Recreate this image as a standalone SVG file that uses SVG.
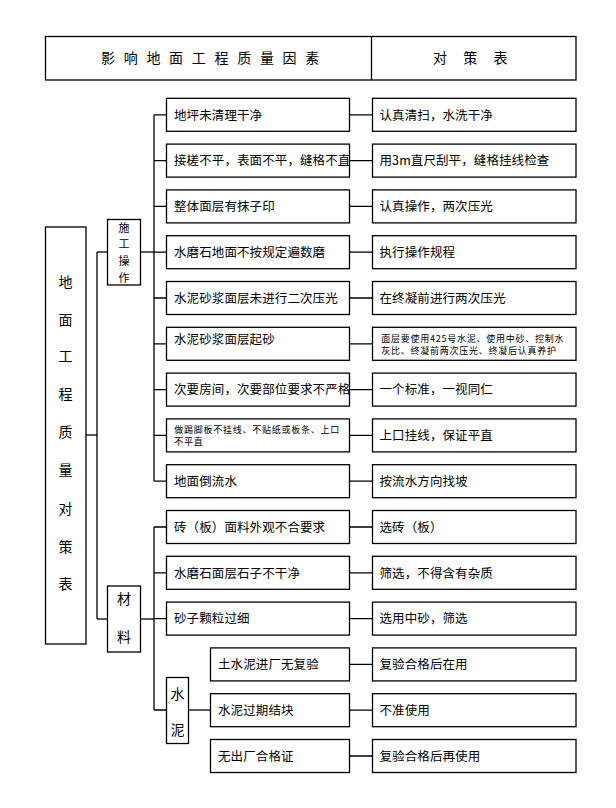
<svg xmlns="http://www.w3.org/2000/svg" width="616" height="808" viewBox="0 0 616 808">
<style>
rect{fill:#fff;stroke:#000;stroke-width:1.3}
.c line,.c path{stroke:#000;stroke-width:1.3;fill:none}
text{font-family:"Noto Sans CJK SC","Noto Sans",sans-serif;fill:#000}
.h{font-size:14px}
.v{font-size:14px;text-anchor:middle}
.vs{font-size:11px;text-anchor:middle}
.m{font-size:12.5px;letter-spacing:0.1px}
.s{font-size:9px;letter-spacing:0.75px}
</style>
<rect width="616" height="808" style="stroke:none"/>
<g id="header">
<rect x="45.5" y="36.5" width="530.5" height="43.5"/>
<line x1="371.5" y1="36.5" x2="371.5" y2="80" stroke="#000" stroke-width="1.3"/>
<text class="h" x="101" y="63" letter-spacing="8.7">影响地面工程质量因素</text>
<text class="h" x="433" y="63" letter-spacing="16.2">对策表</text>
</g>
<g class="c" id="connectors">
<line x1="86" y1="435" x2="97" y2="435"/>
<line x1="97" y1="252" x2="97" y2="619"/>
<line x1="97" y1="252" x2="107.5" y2="252"/>
<line x1="97" y1="619" x2="107.5" y2="619"/>
<line x1="140.5" y1="252" x2="154" y2="252"/>
<line x1="154" y1="114.8" x2="154" y2="481.2"/>
<line x1="140.5" y1="619" x2="154" y2="619"/>
<line x1="154" y1="527" x2="154" y2="710"/>
<path d="M154 114.8H166.5M154 160.6H166.5M154 206.4H166.5M154 252.2H166.5M154 298H166.5M154 343.8H166.5M154 389.6H166.5M154 435.4H166.5M154 481.2H166.5M154 527H166.5M154 572.8H166.5M154 618.6H166.5M154 710H166.5"/>
<line x1="188.5" y1="710" x2="210.5" y2="710"/>
<path d="M349.5 114.8H372.5M349.5 160.6H372.5M349.5 206.4H372.5M349.5 252.2H372.5M349.5 298H372.5M349.5 343.8H372.5M349.5 389.6H372.5M349.5 435.4H372.5M349.5 481.2H372.5M349.5 527H372.5M349.5 572.8H372.5M349.5 618.6H372.5M349.5 664.4H372.5M349.5 710.2H372.5M349.5 756H372.5"/>
</g>
<g id="root">
<rect x="45.5" y="227" width="40.5" height="417"/>
<text class="v" x="65.5" y="287">地</text>
<text class="v" x="65.5" y="324.5">面</text>
<text class="v" x="65.5" y="361">工</text>
<text class="v" x="65.5" y="398.5">程</text>
<text class="v" x="65.5" y="437">质</text>
<text class="v" x="65.5" y="475">量</text>
<text class="v" x="65.5" y="513.5">对</text>
<text class="v" x="65.5" y="552">策</text>
<text class="v" x="65.5" y="588.5">表</text>
</g>
<g id="cat-construction">
<rect x="107.5" y="219.5" width="33" height="65.5"/>
<text class="vs" x="124" y="231.5">施</text>
<text class="vs" x="124" y="248.3">工</text>
<text class="vs" x="124" y="265.1">操</text>
<text class="vs" x="124" y="281.9">作</text>
</g>
<g id="cat-material">
<rect x="107.5" y="586" width="33" height="66"/>
<text class="v" x="124" y="603.5">材</text>
<text class="v" x="124" y="642">料</text>
</g>
<g id="cat-cement">
<rect x="166.5" y="677.5" width="22" height="66"/>
<text class="v" x="177.5" y="698.5">水</text>
<text class="v" x="177.5" y="735">泥</text>
</g>
<g id="f1"><rect x="166.5" y="98.3" width="183" height="33"/><text class="m" x="174" y="119.5">地坪未清理干净</text></g>
<g id="f2"><rect x="166.5" y="144.1" width="183" height="33"/><text class="m" x="174" y="165.3">接槎不平，表面不平，缝格不直</text></g>
<g id="f3"><rect x="166.5" y="189.9" width="183" height="33"/><text class="m" x="174" y="211.1">整体面层有抹子印</text></g>
<g id="f4"><rect x="166.5" y="235.7" width="183" height="33"/><text class="m" x="174" y="256.9">水磨石地面不按规定遍数磨</text></g>
<g id="f5"><rect x="166.5" y="281.5" width="183" height="33"/><text class="m" x="174" y="302.7">水泥砂浆面层未进行二次压光</text></g>
<g id="f6"><rect x="166.5" y="327.3" width="183" height="33"/><text class="m" x="174" y="344">水泥砂浆面层起砂</text></g>
<g id="f7"><rect x="166.5" y="373.1" width="183" height="33"/><text class="m" x="174" y="394.3">次要房间，次要部位要求不严格</text></g>
<g id="f8"><rect x="166.5" y="418.9" width="183" height="33"/><text class="s" x="174.3" y="433.2">做踢脚板不挂线、不贴纸或板条、上口</text><text class="s" x="174.3" y="444.8">不平直</text></g>
<g id="f9"><rect x="166.5" y="464.7" width="183" height="33"/><text class="m" x="174" y="485.9">地面倒流水</text></g>
<g id="f10"><rect x="166.5" y="510.5" width="183" height="33"/><text class="m" x="174" y="531.7">砖（板）面料外观不合要求</text></g>
<g id="f11"><rect x="166.5" y="556.3" width="183" height="33"/><text class="m" x="174" y="577.5">水磨石面层石子不干净</text></g>
<g id="f12"><rect x="166.5" y="602.1" width="183" height="33"/><text class="m" x="174" y="623.3">砂子颗粒过细</text></g>
<g id="f13"><rect x="210.5" y="647.9" width="139" height="33"/><text class="m" x="218" y="669.1">土水泥进厂无复验</text></g>
<g id="f14"><rect x="210.5" y="693.7" width="139" height="33"/><text class="m" x="218" y="714.9">水泥过期结块</text></g>
<g id="f15"><rect x="210.5" y="739.5" width="139" height="33"/><text class="m" x="218" y="760.7">无出厂合格证</text></g>
<g id="r1"><rect x="372.5" y="98.3" width="203.5" height="33"/><text class="m" x="379.5" y="119.5">认真清扫，水洗干净</text></g>
<g id="r2"><rect x="372.5" y="144.1" width="203.5" height="33"/><text class="m" x="379.5" y="165.3">用3m直尺刮平，缝格挂线检查</text></g>
<g id="r3"><rect x="372.5" y="189.9" width="203.5" height="33"/><text class="m" x="379.5" y="211.1">认真操作，两次压光</text></g>
<g id="r4"><rect x="372.5" y="235.7" width="203.5" height="33"/><text class="m" x="379.5" y="256.9">执行操作规程</text></g>
<g id="r5"><rect x="372.5" y="281.5" width="203.5" height="33"/><text class="m" x="379.5" y="302.7">在终凝前进行两次压光</text></g>
<g id="r6"><rect x="372.5" y="327.3" width="203.5" height="33"/><text class="s" x="381.3" y="341.8">面层要使用425号水泥、使用中砂、控制水</text><text class="s" x="381.3" y="353.5">灰比、终凝前两次压光、终凝后认真养护</text></g>
<g id="r7"><rect x="372.5" y="373.1" width="203.5" height="33"/><text class="m" x="379.5" y="394.3">一个标准，一视同仁</text></g>
<g id="r8"><rect x="372.5" y="418.9" width="203.5" height="33"/><text class="m" x="379.5" y="440.1">上口挂线，保证平直</text></g>
<g id="r9"><rect x="372.5" y="464.7" width="203.5" height="33"/><text class="m" x="379.5" y="485.9">按流水方向找坡</text></g>
<g id="r10"><rect x="372.5" y="510.5" width="203.5" height="33"/><text class="m" x="379.5" y="531.7">选砖（板）</text></g>
<g id="r11"><rect x="372.5" y="556.3" width="203.5" height="33"/><text class="m" x="379.5" y="577.5">筛选，不得含有杂质</text></g>
<g id="r12"><rect x="372.5" y="602.1" width="203.5" height="33"/><text class="m" x="379.5" y="623.3">选用中砂，筛选</text></g>
<g id="r13"><rect x="372.5" y="647.9" width="203.5" height="33"/><text class="m" x="379.5" y="669.1">复验合格后在用</text></g>
<g id="r14"><rect x="372.5" y="693.7" width="203.5" height="33"/><text class="m" x="379.5" y="714.9">不准使用</text></g>
<g id="r15"><rect x="372.5" y="739.5" width="203.5" height="33"/><text class="m" x="379.5" y="760.7">复验合格后再使用</text></g>
</svg>
